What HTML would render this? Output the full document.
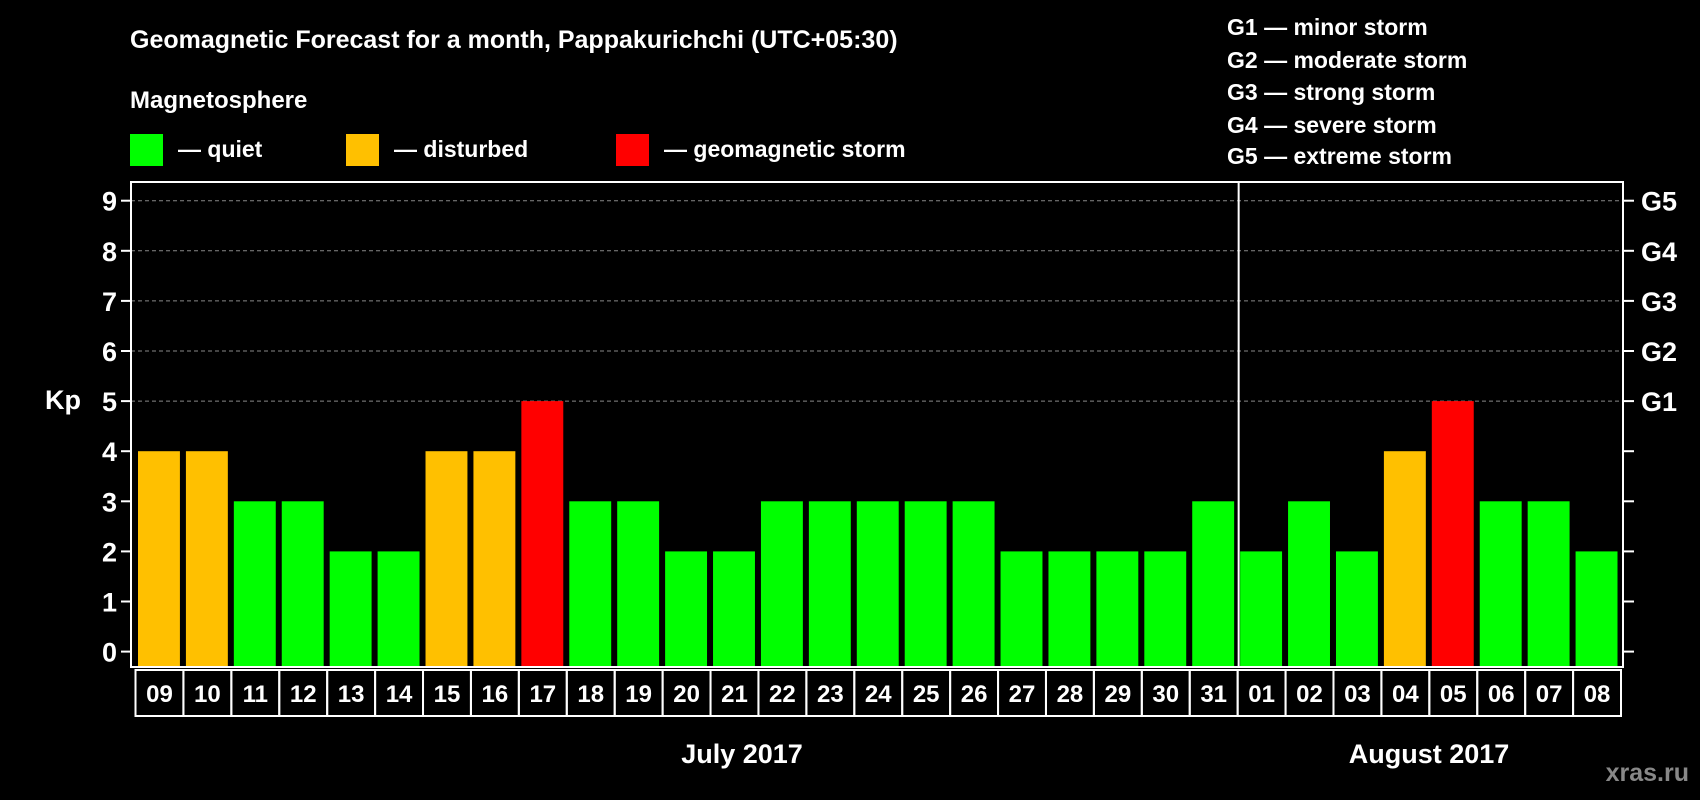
<!DOCTYPE html>
<html><head><meta charset="utf-8"><style>
html,body{margin:0;padding:0;background:#000;width:1700px;height:800px;overflow:hidden}
svg text{font-family:"Liberation Sans",sans-serif;font-weight:bold;fill:#fff}
</style></head><body>
<svg id="c" width="1700" height="800" xmlns="http://www.w3.org/2000/svg">
<text x="130" y="48" font-size="25">Geomagnetic Forecast for a month, Pappakurichchi (UTC+05:30)</text>
<text x="130" y="108" font-size="24">Magnetosphere</text>
<rect x="130" y="134" width="33" height="32" fill="#00ff00"/>
<text x="178" y="157" font-size="23">— quiet</text>
<rect x="346" y="134" width="33" height="32" fill="#ffc000"/>
<text x="394" y="157" font-size="23">— disturbed</text>
<rect x="616" y="134" width="33" height="32" fill="#ff0000"/>
<text x="664" y="157" font-size="23">— geomagnetic storm</text>
<g font-size="23">
<text x="1227" y="35">G1 — minor storm</text>
<text x="1227" y="68">G2 — moderate storm</text>
<text x="1227" y="100">G3 — strong storm</text>
<text x="1227" y="133">G4 — severe storm</text>
<text x="1227" y="164">G5 — extreme storm</text>
</g>
<text x="63" y="409" font-size="27" text-anchor="middle">Kp</text>
<text x="742" y="763" font-size="27" text-anchor="middle">July 2017</text>
<text x="1429" y="763" font-size="27" text-anchor="middle">August 2017</text>
<text x="1689" y="781" font-size="25" text-anchor="end" style="fill:#888">xras.ru</text>
<g id="plot"></g>
</svg>
<script>
const days=["09","10","11","12","13","14","15","16","17","18","19","20","21","22","23","24","25","26","27","28","29","30","31","01","02","03","04","05","06","07","08"];
const kp=[4,4,3,3,2,2,4,4,5,3,3,2,2,3,3,3,3,3,2,2,2,2,3,2,3,2,4,5,3,3,2];
const yTicks=[0,1,2,3,4,5,6,7,8,9];
const gLabels=["G1","G2","G3","G4","G5"];
const gLevels=[5,6,7,8,9];
const NS="http://www.w3.org/2000/svg";
const g=document.getElementById('plot');
const L=131,R=1623,T=182,B=667,X0=135.5,XW=(1621-135.5)/days.length;
const y=v=>651.6-v*50.1;
const x=i=>X0+i*XW;
function mk(t,a){const e=document.createElementNS(NS,t);for(const k in a)e.setAttribute(k,a[k]);g.appendChild(e);return e;}
yTicks.forEach(v=>{
  if(v>=5){const l=mk('line',{x1:L,x2:R,y1:y(v),y2:y(v),stroke:'#888','stroke-dasharray':'4,3','stroke-width':1});
  
  }
  const t1=mk('line',{x1:L-10,x2:L,y1:y(v),y2:y(v),stroke:'#fff','stroke-width':2});
  
  
  const t2=mk('line',{x1:R,x2:R+11,y1:y(v),y2:y(v),stroke:'#fff','stroke-width':2});
  
  
  const tx=mk('text',{x:L-14,y:y(v)+10,'font-size':27,'text-anchor':'end'});tx.textContent=v;
  
  
});
gLabels.forEach((s,i)=>{const t=mk('text',{x:R+18,y:y(gLevels[i])+10,'font-size':27});t.textContent=s;
  
  });
kp.forEach((v,i)=>{
  const c=v>=5?'#ff0000':v>=4?'#ffc000':'#00ff00';
  const b=mk('rect',{x:x(i)+2.5,y:y(v),width:XW-6,height:B-1-y(v),fill:c});
  
  
  const bx=mk('rect',{x:x(i),y:670,width:XW,height:46,fill:'none',stroke:'#fff','stroke-width':2});
  
  
  const t=mk('text',{x:x(i)+XW/2,y:702,'font-size':24,'text-anchor':'middle'});t.textContent=days[i];
  
  
});
const f=mk('rect',{x:L,y:T,width:R-L,height:B-T,fill:'none',stroke:'#fff','stroke-width':2});


const dx=x(days.indexOf("01"))+1;
const d=mk('line',{x1:dx,x2:dx,y1:T,y2:B,stroke:'#fff','stroke-width':2});


</script>
</body></html>
